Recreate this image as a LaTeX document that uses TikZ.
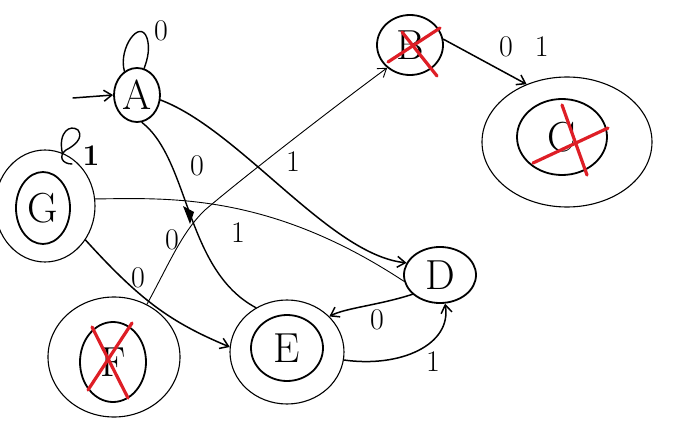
\documentclass[tikz,border=0pt]{standalone}
\usetikzlibrary{arrows.meta,shapes.geometric}
\definecolor{crossred}{RGB}{222,30,38}
\begin{document}
\begin{tikzpicture}[x=1pt,y=-1pt,
  line cap=round, line join=round,
  stateshape/.style={draw, ellipse, line width=1.8pt, inner sep=0pt,
    font=\fontsize{42}{44}\selectfont},
  outershape/.style={draw, ellipse, line width=1.1pt, inner sep=0pt},
  tip/.style={-{Straight Barb[length=8pt,width=11pt]}},
  edge/.style={line width=1.5pt, tip},
  thinedge/.style={line width=0.9pt},
  lbl/.style={font=\fontsize{30}{32}\selectfont, inner sep=0pt},
  strike/.style={draw=crossred, line width=3.2pt}]
\useasboundingbox (0,0) rectangle (673,444);
\fill[white] (0,0) rectangle (673,444);

% states
\node[stateshape, minimum width=46pt, minimum height=54pt] (A) at (137,95) {A};
\node[stateshape, minimum width=54pt, minimum height=72pt] (G) at (43,208) {G};
\node[outershape, minimum width=100pt, minimum height=112pt] (Go) at (45,206) {};
\node[stateshape, minimum width=66pt, minimum height=60pt] (B) at (410,45) {B};
\node[stateshape, minimum width=90pt, minimum height=76pt] (C) at (562,137) {C};
\node[outershape, minimum width=170pt, minimum height=130pt] (Co) at (567,142) {};
\node[stateshape, minimum width=72pt, minimum height=56pt] (D) at (440,275) {D};
\node[stateshape, minimum width=72pt, minimum height=66pt] (E) at (287,348) {E};
\node[outershape, minimum width=114pt, minimum height=104pt] (Eo) at (287,352) {};
\node[stateshape, minimum width=66pt, minimum height=80pt] (F) at (113,362) {F};
\node[outershape, minimum width=132pt, minimum height=120pt] (Fo) at (114,357) {};

% crossed-out states
\draw[strike] (388,62) -- (440,28);
\draw[strike] (402,32) -- (437,76);
\draw[strike] (533,163) -- (608,128);
\draw[strike] (562,105) -- (587,175);
\draw[strike] (92,327) -- (128,398);
\draw[strike] (132,323) -- (88,390);

% start arrow
\coordinate (start) at (73,98);
\draw[edge] (start) -- (A.west);

% self loops
\draw[line width=1.4pt] (A.118) .. controls (118,48) and (140,18) .. (147,38)
  .. controls (150,48) and (148,58) .. (A.75);
\node[lbl] (la) at (161,31) {0};
\draw[line width=1.4pt] (Go.72) .. controls (58,132) and (70,124) .. (78,130)
  .. controls (84,138) and (74,146) .. (66,150)
  .. controls (58,156) and (62,164) .. (72,164);
\node[lbl, font=\fontsize{30}{32}\selectfont\bfseries] (lg) at (91,156) {1};

% transitions
\draw[edge] (A.-12) .. controls (240,130) and (330,255) .. (D.160);

\draw[line width=1.4pt] (A.-80) .. controls (190,160) and (185,270) .. (Eo.125);
\fill (183,206) -- (194,212) -- (190,224) -- cycle;
\node[lbl] (l1) at (197,166) {0};

\draw[thinedge] (Go.8) .. controls (170,198) and (270,193) .. (D.190);
\node[lbl] (l2) at (238,233) {1};

\draw[thinedge, tip] (Fo.58) .. controls (170,262) and (182,232) .. (205,210)
  .. controls (240,180) and (330,110) .. (B.225);
\node[lbl] (l3) at (172,240) {0};
\node[lbl] (l4) at (293,162) {1};

\draw[edge] (Go.-40) .. controls (140,300) and (170,322) .. (Eo.175);
\node[lbl] (l5) at (138,278) {0};

\draw[edge] (D.215) .. controls (380,305) and (345,308) .. (Eo.40);
\node[lbl] (l6) at (377,320) {0};

\draw[edge] (Eo.-8) .. controls (400,368) and (452,345) .. (D.-80);
\node[lbl] (l7) at (433,362) {1};

\draw[edge] (B.10) -- (Co.125);
\node[lbl] (l8) at (524,47) {0\hspace{22pt}1};
\end{tikzpicture}
\end{document}
